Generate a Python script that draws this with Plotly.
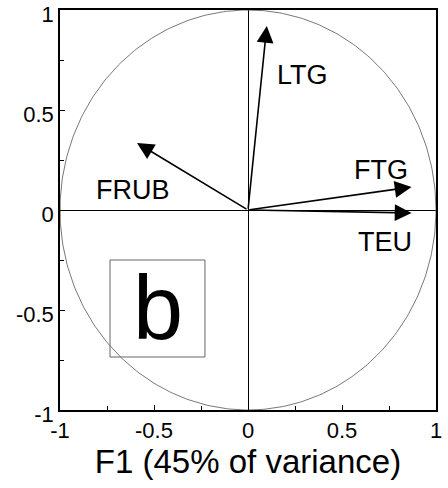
import numpy as np
import plotly.graph_objects as go

# Data: loadings on F1 (x) and F2 (y)
variables = ["LTG", "FTG", "TEU", "FRUB"]
f1_loadings = [0.10, 0.87, 0.87, -0.59]
f2_loadings = [0.92, 0.115, -0.015, 0.335]
label_x = [0.29, 0.71, 0.73, -0.61]
label_y = [0.675, 0.20, -0.16, 0.10]
tick_vals = [-1, -0.5, 0, 0.5, 1]
tick_text = ["-1", "-0.5", "0", "0.5", "1"]
panel_label = "b"
x_title = "F1 (45% of variance)"
circle_radius = 1.0

FONT = "Arial, Liberation Sans, sans-serif"

fig = go.Figure()

theta = np.linspace(0, 2 * np.pi, 400)
fig.add_trace(go.Scatter(
    x=circle_radius * np.cos(theta), y=circle_radius * np.sin(theta),
    mode="lines", line=dict(color="#555555", width=0.8),
    hoverinfo="skip", showlegend=False))

annotations = []
for name, fx, fy, lx, ly in zip(variables, f1_loadings, f2_loadings, label_x, label_y):
    annotations.append(dict(
        x=fx, y=fy, ax=0, ay=0, xref="x", yref="y", axref="x", ayref="y",
        showarrow=True, arrowhead=2, arrowsize=2.1, arrowwidth=1.6,
        arrowcolor="black", text=""))
    annotations.append(dict(
        x=lx, y=ly, xref="x", yref="y", text=name, showarrow=False,
        font=dict(family=FONT, size=27, color="black")))

annotations.append(dict(
    x=-0.48, y=-0.49, xref="x", yref="y", text=panel_label, showarrow=False,
    font=dict(family=FONT, size=90, color="black")))

fig.add_shape(type="rect", xref="x", yref="y", x0=-0.734, x1=-0.229,
              y0=-0.735, y1=-0.25, line=dict(color="#666666", width=1))

axis_common = dict(
    range=[-1, 1], tickvals=tick_vals, ticktext=tick_text,
    ticks="inside", ticklen=5, tickcolor="black", tickwidth=1,
    minor=dict(dtick=0.25, ticks="inside", ticklen=4, tickcolor="black"),
    showgrid=False, zeroline=True, zerolinecolor="black", zerolinewidth=1,
    showline=True, linecolor="black", linewidth=1.5, mirror=True,
    tickfont=dict(family=FONT, size=22, color="black"),
    automargin=False, ticklabeloverflow="allow",
)

fig.update_xaxes(**axis_common,
                 title=dict(text=x_title, font=dict(family=FONT, size=33, color="black"),
                            standoff=4))
fig.update_yaxes(**axis_common, ticklabelshift=4)

fig.update_layout(
    width=448, height=488,
    margin=dict(l=60, r=12, t=10, b=78),
    plot_bgcolor="white", paper_bgcolor="white",
    annotations=annotations, showlegend=False,
)

fig.write_html("out.html", config={"displayModeBar": False},
               post_script="document.body.style.margin='0';")
